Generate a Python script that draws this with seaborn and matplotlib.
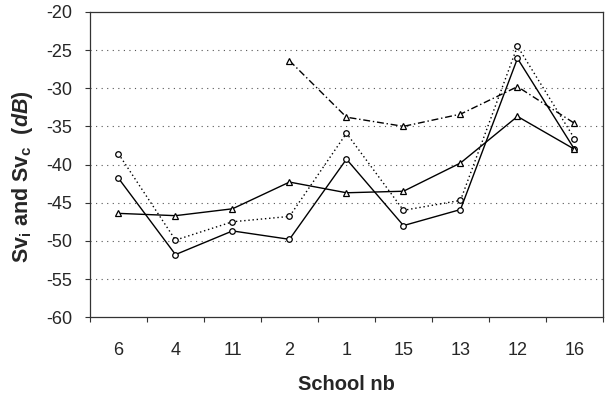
import numpy as np
import pandas as pd
import matplotlib
matplotlib.use("Agg")
import matplotlib.pyplot as plt
import seaborn as sns

# schools in the order shown on the x axis
schools = ["6", "4", "11", "2", "1", "15", "13", "12", "16"]

# values (dB)
sv_i_solid = [-41.8, -51.8, -48.7, -49.8, -39.3, -48.0, -45.9, -26.1, -38.0]
sv_i_dotted = [-38.6, -49.9, -47.5, -46.8, -35.9, -46.0, -44.7, -24.5, -36.6]
sv_c_solid = [-46.4, -46.7, -45.8, -42.3, -43.7, -43.5, -39.8, -33.7, -38.0]
sv_c_dashdot = [np.nan, np.nan, np.nan, -26.4, -33.8, -35.0, -33.4, -29.8, -34.6]

sns.set_style("white")
plt.rcParams["font.family"] = ["Liberation Sans", "DejaVu Sans"]
plt.rcParams["axes.unicode_minus"] = False
plt.rcParams["mathtext.fontset"] = "custom"
plt.rcParams["mathtext.rm"] = "Liberation Sans"
plt.rcParams["mathtext.it"] = "Liberation Sans:italic:bold"
plt.rcParams["mathtext.bf"] = "Liberation Sans:bold"

pos = np.arange(len(schools))
df = pd.DataFrame({
    "pos": pos,
    "a": sv_i_solid,
    "b": sv_i_dotted,
    "c": sv_c_solid,
    "d": sv_c_dashdot,
})

fig = plt.figure(figsize=(6.06, 3.95), dpi=100)
ax = fig.add_axes([0.1485, 0.197, 0.8465, 0.773])

common = dict(ax=ax, x="pos", color="black", linewidth=1.0, markersize=4,
              markerfacecolor="white", markeredgecolor="black",
              markeredgewidth=0.9, sort=False, legend=False)

sns.lineplot(data=df, y="a", marker="o", linestyle="-", **common)
sns.lineplot(data=df, y="b", marker="o", linestyle=(0, (1, 2)), **common)
sns.lineplot(data=df, y="c", marker="^", linestyle="-", **common)
sns.lineplot(data=df.dropna(), y="d", marker="^", linestyle=(0, (5, 2, 1, 2)), **common)

ax.set_ylim(-60, -20)
ax.set_yticks(np.arange(-60, -19, 5))
ax.set_xlim(-0.5, len(schools) - 0.5)
ax.set_xticks(pos)
ax.set_xticklabels(schools)
ax.set_xticks(np.arange(-0.5, len(schools), 1), minor=True)

for y in range(-55, -20, 5):
    ax.axhline(y, color="#555555", linestyle=(0, (1, 4)), linewidth=0.8, zorder=0)

for s in ax.spines.values():
    s.set_color("#333333")
    s.set_linewidth(0.9)

ax.tick_params(axis="y", which="major", direction="out", length=3.6, width=0.8,
               color="#333333", labelsize=13, pad=9, left=True)
ax.tick_params(axis="x", which="major", length=0, labelsize=13, pad=18)
ax.tick_params(axis="x", which="minor", direction="out", length=3.6, width=0.8,
               color="#333333", bottom=True)

ax.set_xlabel("School nb", fontsize=14.5, fontweight="bold")
ax.xaxis.set_label_coords(0.5, -0.22)
ax.xaxis.label.set_va("center")
ax.set_ylabel(r"Sv$_\mathbf{i}$ and Sv$_\mathbf{c}$  ($dB$)", fontsize=15.5,
              fontweight="bold")
ax.yaxis.set_label_coords(-0.131, 0.46)
ax.yaxis.label.set_va("center")

fig.savefig("out.png", dpi=100)
